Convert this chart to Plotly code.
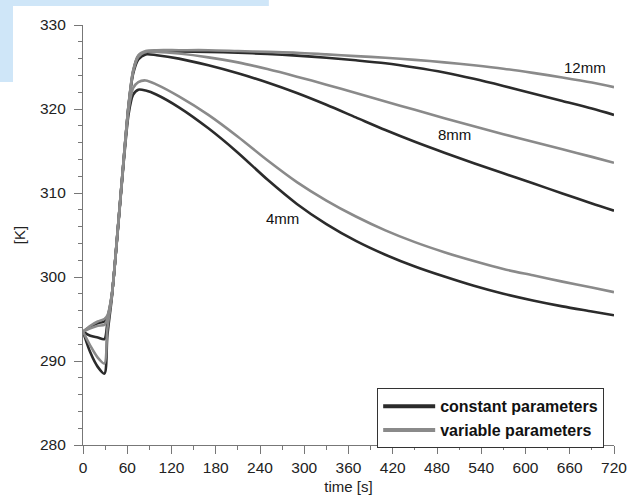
import plotly.graph_objects as go

time_s = [0, 10, 20, 29, 33, 39, 47, 55, 62, 68, 75, 85, 100, 130, 170, 210, 250, 290,
          330, 370, 410, 450, 490, 530, 570, 610, 650, 690, 720]

const_4mm = [293.5, 291.0, 289.3, 288.5, 293.0, 297.5, 305.3, 313.5, 319.5, 321.7, 322.3, 322.2,
             321.7, 320.2, 317.7, 314.8, 311.6, 308.7, 306.3, 304.3, 302.65, 301.25, 300.05, 298.95,
             298.0, 297.2, 296.5, 295.9, 295.45]
var_4mm = [293.5, 291.8, 290.4, 289.7, 293.8, 297.6, 305.4, 313.6, 320.0, 322.5, 323.2, 323.4,
           322.9, 321.5, 319.3, 316.7, 313.9, 311.3, 309.1, 307.2, 305.55, 304.15, 302.95, 301.9,
           300.95, 300.2, 299.45, 298.75, 298.2]
const_8mm = [293.5, 293.0, 292.8, 292.6, 294.5, 297.7, 305.5, 313.8, 320.5, 324.2, 325.9, 326.5,
             326.4, 326.0, 325.2, 324.25, 323.15, 321.9, 320.5, 319.0, 317.5, 316.1, 314.8, 313.55,
             312.35, 311.15, 309.95, 308.75, 307.9]
var_8mm = [293.5, 293.9, 294.2, 294.3, 295.0, 297.8, 305.5, 313.8, 320.6, 324.4, 326.2, 326.8,
           326.8, 326.6, 326.15, 325.55, 324.75, 323.85, 322.9, 321.9, 320.9, 319.9, 318.9, 317.95,
           317.0, 316.1, 315.2, 314.3, 313.6]
const_12mm = [293.5, 294.1, 294.5, 294.7, 295.2, 297.8, 305.5, 313.8, 320.6, 324.5, 326.3, 326.8,
              326.9, 326.85, 326.8, 326.7, 326.55, 326.35, 326.1, 325.8, 325.45, 324.95, 324.35,
              323.6, 322.75, 321.85, 320.95, 320.05, 319.3]
var_12mm = [293.5, 294.2, 294.7, 295.0, 295.4, 297.9, 305.6, 313.9, 320.7, 324.6, 326.4, 326.9,
            327.0, 327.0, 327.0, 326.9, 326.8, 326.7, 326.5, 326.3, 326.1, 325.85, 325.55, 325.2,
            324.8, 324.3, 323.75, 323.15, 322.6]

labels = ["12mm", "8mm", "4mm"]
label_x = [681, 504, 270]
label_y = [324.9, 317.0, 307.0]

legend_names = ["constant parameters", "variable parameters"]

x_ticks = list(range(0, 721, 60))
y_ticks = list(range(280, 331, 10))

DARK = "#2b2b2b"
GRAY = "#8a8a8a"
FONT = "Arial, Liberation Sans, sans-serif"

fig = go.Figure()

const_series = [const_4mm, const_8mm, const_12mm]
var_series = [var_4mm, var_8mm, var_12mm]

for s in const_series:
    fig.add_trace(go.Scatter(x=time_s, y=s, mode="lines",
                             line=dict(color=DARK, width=2.6, shape="spline", smoothing=0.8),
                             showlegend=False, hoverinfo="skip"))
for s in var_series:
    fig.add_trace(go.Scatter(x=time_s, y=s, mode="lines",
                             line=dict(color=GRAY, width=2.6, shape="spline", smoothing=0.8),
                             showlegend=False, hoverinfo="skip"))

# legend entries
for name, col in zip(legend_names, [DARK, GRAY]):
    fig.add_trace(go.Scatter(x=[None], y=[None], mode="lines", name=name,
                             line=dict(color=col, width=4)))

for t, xx, yy in zip(labels, label_x, label_y):
    fig.add_annotation(x=xx, y=yy, text=t, showarrow=False,
                       font=dict(family=FONT, size=15, color="#111"))

axis_common = dict(showline=True, linecolor="#777", linewidth=1.2, ticks="outside",
                   tickcolor="#777", ticklen=8, tickwidth=1.2, showgrid=False, zeroline=False,
                   automargin=False,
                   tickfont=dict(family=FONT, size=15.5, color="#222"))

fig.update_xaxes(range=[0, 720], tickvals=x_ticks, ticktext=[str(v) for v in x_ticks],
                 minor=dict(dtick=30, tick0=0, ticks="outside", ticklen=4, tickcolor="#777"),
                 title=dict(text="time [s]", font=dict(family=FONT, size=15, color="#222"), standoff=6),
                 **axis_common)
fig.update_yaxes(range=[280, 330], tickvals=y_ticks, ticktext=[str(v) for v in y_ticks],
                 minor=dict(dtick=2, tick0=280, ticks="outside", ticklen=4, tickcolor="#777"),
                 ticklabelstandoff=5,
                 title=dict(text="[K]", font=dict(family=FONT, size=15, color="#222"), standoff=10),
                 **axis_common)

fig.update_layout(
    width=639, height=500,
    margin=dict(l=83, r=25, t=25, b=55),
    paper_bgcolor="white", plot_bgcolor="white",
    legend=dict(x=0.554, y=0.135, xanchor="left", yanchor="top",
                bordercolor="#333", borderwidth=1, bgcolor="white",
                font=dict(family=FONT, size=16, color="#111", weight="bold"),
                tracegroupgap=0, itemwidth=52),
    shapes=[
        dict(type="rect", xref="paper", yref="paper", x0=-0.1563, x1=0.35, y0=1.0452, y1=1.06,
             fillcolor="#cfe6f8", line=dict(width=0), layer="below"),
        dict(type="rect", xref="paper", yref="paper", x0=-0.1563, x1=-0.1318, y0=0.864, y1=1.06,
             fillcolor="#cfe6f8", line=dict(width=0), layer="below"),
    ],
)

fig.write_html("out.html", config={"displayModeBar": False},
               post_script="document.body.style.margin='0';")
